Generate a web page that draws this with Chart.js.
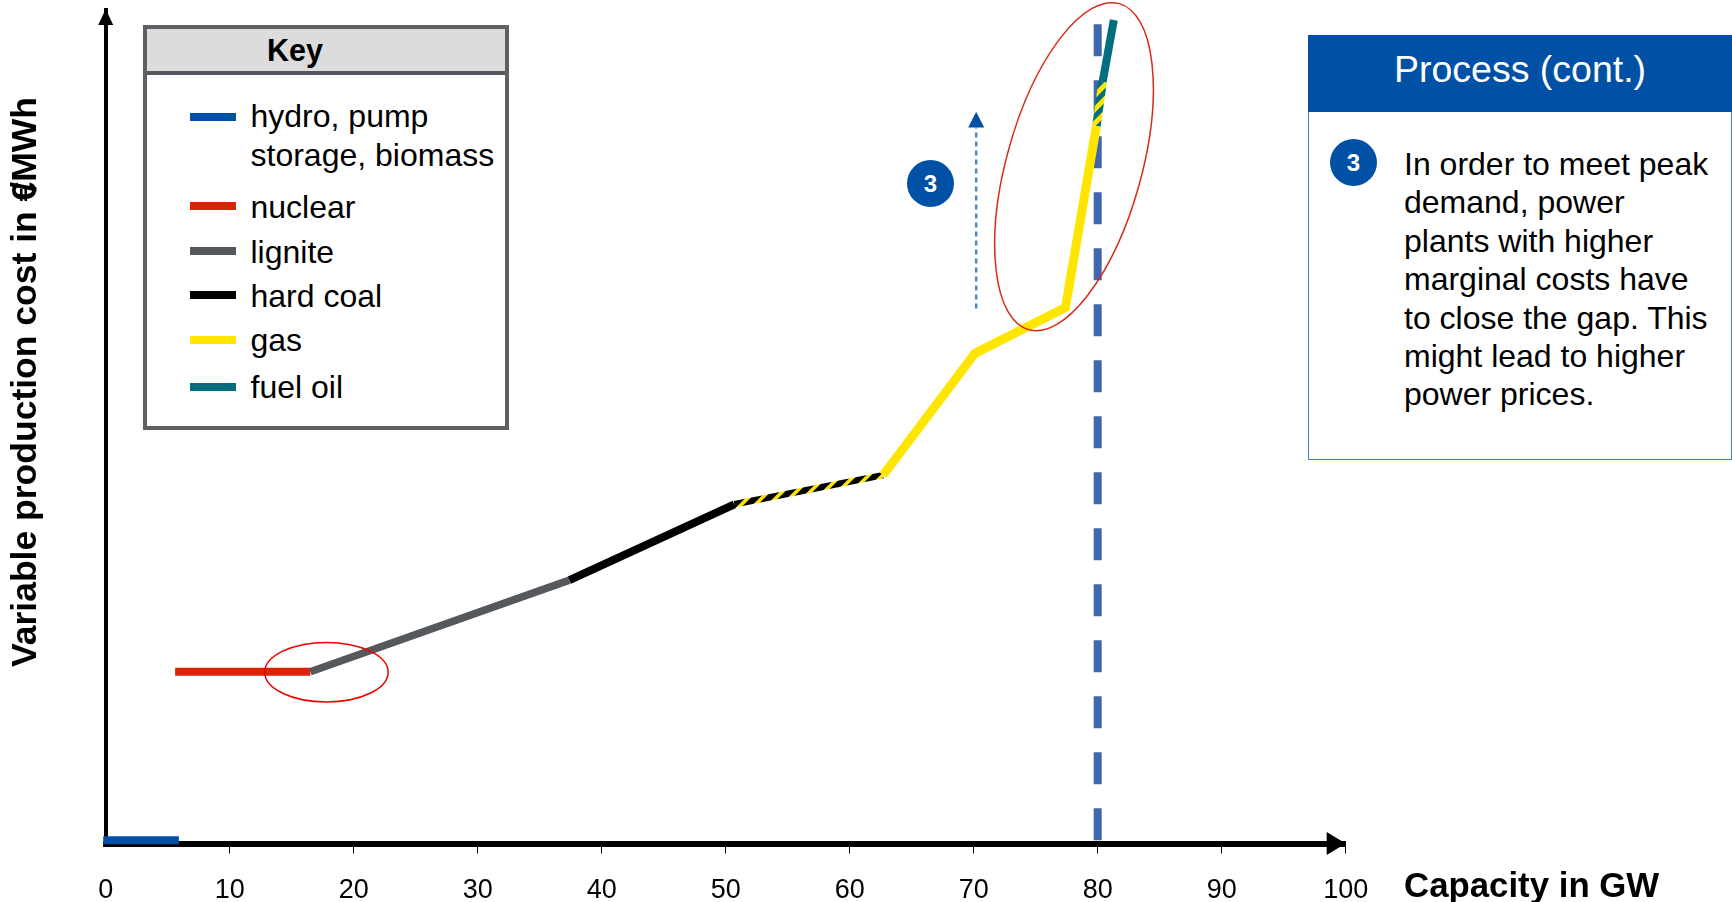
<!DOCTYPE html>
<html>
<head>
<meta charset="utf-8">
<title>Merit order</title>
<script src="https://cdn.jsdelivr.net/npm/chart.js@4"></script>
<style>
  html, body { margin: 0; padding: 0; background: #fff; }
  body { width: 1732px; height: 902px; position: relative; overflow: hidden; font-family: "Liberation Sans", Arial, sans-serif; color: #000; }
  canvas { position: absolute; left: 0; top: 0; }

  #key { position: absolute; left: 143px; top: 25px; width: 366px; height: 405px; box-sizing: border-box; border: 4px solid #5e6064; background: #fff; }
  #key .head { position: absolute; left: 0; top: 0; right: 0; height: 42px; background: #dcdcdc; border-bottom: 4px solid #55585c; font: bold 30.5px "Liberation Sans", Arial, sans-serif; line-height: 42px; padding-left: 120px; }
  #key .row { position: absolute; left: 103.5px; font-size: 32px; line-height: 39px; white-space: pre; }
  #key .swatch { position: absolute; left: 43px; width: 46px; height: 8px; }

  #panel { position: absolute; left: 1308px; top: 35px; width: 424px; height: 425px; box-sizing: border-box; border: 1.5px solid #3f7fbf; background: #fff; }
  #panel .head { position: absolute; left: -1.5px; top: -1.5px; right: -1.5px; height: 77px; background: #0051a5; color: #fff; font-size: 37.5px; line-height: 68px; text-align: center; }
  #panel .body { position: absolute; left: 95px; top: 109px; font-size: 32px; line-height: 38.4px; white-space: pre; }

  .badge { position: absolute; width: 47px; height: 47px; border-radius: 50%; background: #0051a5; color: #fff; font: bold 24px/47px "Liberation Sans", Arial, sans-serif; text-align: center; }
</style>
</head>
<body>
<canvas id="meritChart" width="1732" height="902"></canvas>
<div id="key"><div class="head">Key</div></div>
<div class="badge" style="left:907px;top:160px">3</div>
<div id="panel">
  <div class="head">Process (cont.)</div>
  <div class="badge" style="left:21px;top:103px">3</div>
  <div class="body" id="panelText"></div>
</div>

<script>
const xTicks = [0, 10, 20, 30, 40, 50, 60, 70, 80, 90, 100];

const hydroX = [-0.2, 5.9];
const hydroY = [0.4, 0.4];
const nuclearX = [5.6, 16.5];
const nuclearY = [20.6, 20.6];
const ligniteX = [16.5, 37.4];
const ligniteY = [20.6, 31.6];
const coalX = [37.4, 50.7];
const coalY = [31.6, 40.7];
const coalGasX = [50.7, 62.7];
const coalGasY = [40.7, 44.2];
const gasX = [62.7, 70.1, 77.4, 79.9];
const gasY = [44.2, 58.8, 64.3, 86.1];
const gasOilX = [79.9, 80.4];
const gasOilY = [86.1, 91.4];
const oilX = [80.4, 81.3];
const oilY = [91.4, 98.8];

const peakX = [80, 80];
const peakY = [98.3, 0];
const riseX = [70.2, 70.2];
const riseY = [64.2, 85.9];
const riseTip = 87.8;

const keyNames = ["hydro, pump\nstorage, biomass", "nuclear", "lignite", "hard coal", "gas", "fuel oil"];
const keyColors = ["#0051a5", "#dc2308", "#55585c", "#000000", "#ffe600", "#006e7c"];
const keySwatchTop = [84, 173, 218, 262, 307, 354];
const keyTextTop = [68, 159, 204, 248, 292, 339];

const panelLines = [
  "In order to meet peak",
  "demand, power",
  "plants with higher",
  "marginal costs have",
  "to close the gap. This",
  "might lead to higher",
  "power prices."
];

// ellipses in axis units: centre x, centre y, radius x, radius y, tilt in degrees
const ellipses = [
  { cx: 78.09, cy: 81.2, rx: 5.45, ry: 20.3, tilt: 15.5, color: "#d92a1a", width: 1.5 },
  { cx: 17.8, cy: 20.55, rx: 4.98, ry: 3.57, tilt: 0, color: "#f00000", width: 1.5 }
];

function hatch(base, stripe, tile, width) {
  const c = document.createElement("canvas");
  c.width = tile;
  c.height = tile;
  const g = c.getContext("2d");
  g.fillStyle = base;
  g.fillRect(0, 0, tile, tile);
  g.strokeStyle = stripe;
  g.lineWidth = width;
  [[-tile, tile, tile, -tile], [0, tile, tile, 0], [0, 2 * tile, 2 * tile, 0]].forEach(l => {
    g.beginPath();
    g.moveTo(l[0], l[1]);
    g.lineTo(l[2], l[3]);
    g.stroke();
  });
  return g.createPattern(c, "repeat");
}

function points(xs, ys) {
  return xs.map((x, i) => ({ x: x, y: ys[i] }));
}

function segment(xs, ys, color, width, extra) {
  return Object.assign({
    data: points(xs, ys),
    borderColor: color,
    borderWidth: width,
    pointRadius: 0,
    tension: 0,
    clip: false,
    borderCapStyle: "butt",
    borderJoinStyle: "miter"
  }, extra || {});
}

// axis arrows, ellipses and axis titles
const extras = {
  id: "extras",
  afterDatasetsDraw(chart) {
    const { ctx, scales: { x, y }, chartArea: area } = chart;
    ctx.save();

    ctx.fillStyle = "#000";
    ctx.beginPath();
    ctx.moveTo(area.left, 9);
    ctx.lineTo(area.left + 7.5, 25);
    ctx.lineTo(area.left - 7.5, 25);
    ctx.fill();
    ctx.beginPath();
    ctx.moveTo(area.right, area.bottom);
    ctx.lineTo(area.right - 19, area.bottom - 11.5);
    ctx.lineTo(area.right - 19, area.bottom + 11.5);
    ctx.fill();

    const tipX = x.getPixelForValue(riseX[1]);
    const tipY = y.getPixelForValue(riseTip);
    const baseY = y.getPixelForValue(riseY[1]);
    ctx.fillStyle = "#0051a5";
    ctx.beginPath();
    ctx.moveTo(tipX, tipY);
    ctx.lineTo(tipX + 8, baseY);
    ctx.lineTo(tipX - 8, baseY);
    ctx.fill();

    ellipses.forEach(e => {
      const px = x.getPixelForValue(e.cx);
      const py = y.getPixelForValue(e.cy);
      const rx = Math.abs(x.getPixelForValue(e.cx + e.rx) - px);
      const ry = Math.abs(y.getPixelForValue(e.cy + e.ry) - py);
      ctx.strokeStyle = e.color;
      ctx.lineWidth = e.width;
      ctx.beginPath();
      ctx.ellipse(px, py, rx, ry, e.tilt * Math.PI / 180, 0, Math.PI * 2);
      ctx.stroke();
    });

    ctx.fillStyle = "#000";
    ctx.textBaseline = "middle";
    ctx.font = 'bold 34.8px "Liberation Sans", Arial, sans-serif';
    ctx.textAlign = "left";
    ctx.fillText("Capacity in GW", 1404, 887);

    // the slash sits on top of the euro sign in this title
    const head = "Variable production cost in €";
    const tail = "/MWh";
    ctx.font = 'bold 35.5px "Liberation Sans", Arial, sans-serif';
    const overlap = 10;
    const headWidth = ctx.measureText(head).width;
    const total = headWidth + ctx.measureText(tail).width - overlap;
    ctx.translate(26, 382);
    ctx.rotate(-Math.PI / 2);
    ctx.fillText(head, -total / 2, 0);
    ctx.fillText(tail, -total / 2 + headWidth - overlap, 0);
    ctx.restore();
  }
};

// Chart.js paints the last dataset first, so the front-most segment comes first here
const meritChart = new Chart(document.getElementById("meritChart").getContext("2d"), {
  type: "line",
  data: {
    datasets: [
      segment(hydroX, hydroY, keyColors[0], 8),
      segment(oilX, oilY, keyColors[5], 8),
      segment(gasOilX, gasOilY, hatch(keyColors[5], keyColors[4], 14, 5), 8.5),
      segment(gasX, gasY, keyColors[4], 9),
      segment(coalGasX, coalGasY, hatch("#000000", keyColors[4], 14, 3.5), 6.5),
      segment(coalX, coalY, keyColors[3], 8),
      segment(ligniteX, ligniteY, keyColors[2], 7.5),
      segment(nuclearX, nuclearY, keyColors[1], 8),
      segment(riseX, riseY, "#4f86c6", 2.5, { borderDash: [5, 4] }),
      segment(peakX, peakY, "#3f66ae", 8, { borderDash: [32, 24] })
    ]
  },
  plugins: [extras],
  options: {
    responsive: false,
    animation: false,
    events: [],
    layout: { padding: { left: 105.7, top: 10, right: 386.3, bottom: 0 } },
    plugins: { legend: { display: false }, tooltip: { enabled: false } },
    scales: {
      x: {
        type: "linear",
        min: 0,
        max: 100,
        afterBuildTicks: s => { s.ticks = xTicks.map(v => ({ value: v })); },
        afterFit: s => { s.height = 902 - 843.5; },
        border: { color: "#000", width: 6 },
        grid: {
          drawOnChartArea: false,
          drawTicks: true,
          tickLength: 10,
          tickWidth: 1,
          tickColor: c => (c.tick && c.tick.value === 0 ? "transparent" : "#000")
        },
        ticks: {
          autoSkip: false,
          maxRotation: 0,
          color: "#000",
          padding: 21,
          font: { family: '"Liberation Sans", Arial, sans-serif', size: 27 }
        }
      },
      y: {
        type: "linear",
        min: 0,
        max: 100,
        afterFit: s => { s.width = 0; },
        border: { color: "#000", width: 4 },
        grid: { display: false },
        ticks: { display: false }
      }
    }
  }
});

// key rows share their colours with the plotted segments
const key = document.getElementById("key");
keyNames.forEach((name, i) => {
  const swatch = document.createElement("div");
  swatch.className = "swatch";
  swatch.style.top = keySwatchTop[i] + "px";
  swatch.style.background = keyColors[i];
  key.appendChild(swatch);
  const row = document.createElement("div");
  row.className = "row";
  row.style.top = keyTextTop[i] + "px";
  row.textContent = name;
  key.appendChild(row);
});

document.getElementById("panelText").textContent = panelLines.join("\n");
</script>
</body>
</html>
